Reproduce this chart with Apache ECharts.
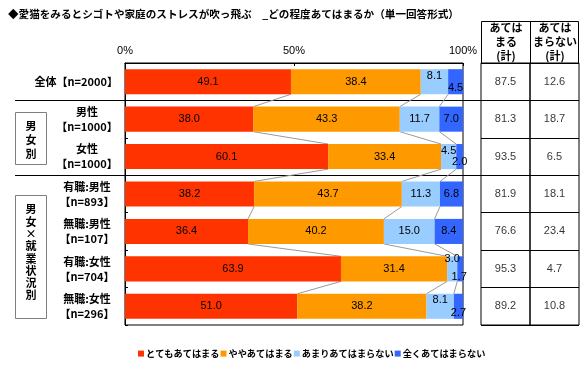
<!DOCTYPE html>
<html><head><meta charset="utf-8">
<script src="https://cdn.jsdelivr.net/npm/echarts@6/dist/echarts.min.js"></script>
<style>html,body{margin:0;padding:0;background:#fff}#c{width:581px;height:376px}</style>
</head><body><div id="c"></div>
<script>
// ---- data ----
const categories = ['全体【n=2000】','男性\n【n=1000】','女性\n【n=1000】','有職:男性\n【n=893】','無職:男性\n【n=107】','有職:女性\n【n=704】','無職:女性\n【n=296】'];
const seriesNames = ['とてもあてはまる','ややあてはまる','あまりあてはまらない','全くあてはまらない'];
const veryMuch = [49.1,38.0,60.1,38.2,36.4,63.9,51.0];
const somewhat = [38.4,43.3,33.4,43.7,40.2,31.4,38.2];
const notMuch  = [8.1,11.7,4.5,11.3,15.0,3.0,8.1];
const notAtAll = [4.5,7.0,2.0,6.8,8.4,1.7,2.7];
const applyTotal    = [87.5,81.3,93.5,81.9,76.6,95.3,89.2];
const notApplyTotal = [12.6,18.7,6.5,18.1,23.4,4.7,10.8];
const xTickValues = [0,50,100];
const titleText = '◆愛猫をみるとシゴトや家庭のストレスが吹っ飛ぶ　_どの程度あてはまるか（単一回答形式）';
const headerYes = 'あては\nまる\n(計)';
const headerNo = 'あては\nまらない\n(計)';
const groupBox1 = '男\n女\n別';
const groupBox2 = '男\n女\n×\n就\n業\n状\n況\n別';

// ---- style / layout ----
const colors = ['#FF3300','#FF9900','#99CCFF','#3366FF'];
const JP = '"Noto Sans CJK JP", sans-serif';
const NUM = '"Liberation Sans", Arial, sans-serif';
const G = {left:125, top:63, width:338, height:262};
const BAR_RATIO = 0.67;
const pitch = G.height / categories.length;
const nudges = {
  2: {0:[0,-6], 2:[0,-6], 5:[0,-10], 6:[0,-6]},
  3: {0:[0,6], 2:[0,5], 5:[-1,8], 6:[0,7]}
};

const values = [veryMuch, somewhat, notMuch, notAtAll];
const barSeries = values.map((arr, s) => ({
  name: seriesNames[s], type: 'bar', stack: 'all', xAxisIndex:0, yAxisIndex:0,
  barCategoryGap: '33%',
  itemStyle: {color: colors[s]},
  label: {show:true, position:'inside', color:'#000', fontSize:11, fontFamily:NUM,
          formatter: p => p.value.toFixed(1)},
  data: arr.map((v, i) => {
    const n = nudges[s] && nudges[s][i];
    return n ? {value: v, label: {offset: n}} : v;
  })
}));

const cum = categories.map((_, i) => {
  const a = veryMuch[i], b = a + somewhat[i], c = b + notMuch[i];
  return [a, b, c];
});
const connData = [];
for (let i = 0; i < categories.length - 1; i++) connData.push([i, ...cum[i], ...cum[i+1]]);

const connSeries = {
  type:'custom', xAxisIndex:0, yAxisIndex:0, silent:true, z:1,
  encode:{x:[1,2,3,4,5,6], y:0},
  data: connData,
  renderItem: (params, api) => {
    const i = api.value(0);
    const half = api.size([0,1])[1] * BAR_RATIO / 2;
    const children = [];
    for (let k = 0; k < 3; k++) {
      const p1 = api.coord([api.value(1+k), i]);
      const p2 = api.coord([api.value(4+k), i+1]);
      children.push({type:'line', shape:{x1:p1[0], y1:p1[1]+half, x2:p2[0], y2:p2[1]-half},
        style:{stroke:'#9a9a9a', lineWidth:1}});
    }
    return {type:'group', children};
  }
};

function tableSeries(arr, idx) {
  return {type:'scatter', xAxisIndex:idx, yAxisIndex:idx, symbolSize:1, silent:true,
    itemStyle:{color:'rgba(0,0,0,0)'},
    label:{show:true, position:'inside', color:'#000', fontSize:11, fontFamily:NUM,
      formatter: p => p.value[2].toFixed(1)},
    encode:{x:0, y:1},
    data: arr.map((v, i) => [0.5, i, v])};
}

function tableYAxis(idx) {
  return {type:'category', gridIndex:idx, inverse:true, data:categories,
    axisLabel:{show:false}, axisTick:{show:false}, axisLine:{show:false},
    splitLine:{show:true, lineStyle:{color:'#000', width:1}}};
}

const sep1 = Math.round(G.top + pitch * 1) + 0.5;
const sep2 = Math.round(G.top + pitch * 3) + 0.5;

const option = {
  animation:false,
  backgroundColor:'#fff',
  title:{text:titleText, left:3, top:4,
    textStyle:{fontSize:10.6, fontWeight:'bold', color:'#000', fontFamily:JP}},
  legend:{data:seriesNames, left:133, top:344, icon:'rect', itemWidth:6, itemHeight:6, itemGap:1,
    textStyle:{fontSize:9.2, fontWeight:'bold', color:'#000', fontFamily:JP, padding:[0,0,0,-3]}},
  grid:[
    {left:G.left, top:G.top, width:G.width, height:G.height, show:true, borderColor:'#000', borderWidth:1, containLabel:false},
    {left:481, top:G.top, width:49, height:G.height, show:true, borderColor:'#000', borderWidth:1},
    {left:530, top:G.top, width:49, height:G.height, show:true, borderColor:'#000', borderWidth:1}
  ],
  xAxis:[
    {type:'value', gridIndex:0, position:'top', min:xTickValues[0], max:xTickValues[xTickValues.length-1],
      interval:xTickValues[1]-xTickValues[0],
      axisLine:{show:true, lineStyle:{color:'#000'}},
      axisTick:{show:true, inside:true, length:3, lineStyle:{color:'#000'}},
      splitLine:{show:false},
      axisLabel:{formatter:'{value}%', color:'#000', fontSize:11, fontFamily:NUM, margin:7}},
    {type:'value', gridIndex:1, min:0, max:1, show:false},
    {type:'value', gridIndex:2, min:0, max:1, show:false}
  ],
  yAxis:[
    {type:'category', gridIndex:0, inverse:true, data:categories,
      axisLine:{show:true, lineStyle:{color:'#000'}},
      axisTick:{show:true, inside:true, length:3, lineStyle:{color:'#000'}},
      splitLine:{show:false},
      axisLabel:{align:'right', margin:7, color:'#000',
        formatter: v => v.indexOf('\n') >= 0
          ? v.split('\n').map(s => '{c|' + s + '}').join('\n')
          : '{r|' + v + '}',
        rich:{
          c:{width:62, align:'center', fontSize:11, fontWeight:'bold', fontFamily:JP, lineHeight:15, color:'#000'},
          r:{align:'right', fontSize:11, fontWeight:'bold', fontFamily:JP, color:'#000'}
        }}},
    tableYAxis(1), tableYAxis(2)
  ],
  series:[connSeries, ...barSeries, tableSeries(applyTotal,1), tableSeries(notApplyTotal,2)],
  graphic:[
    {type:'line', z:-1, shape:{x1:15, y1:sep1, x2:481, y2:sep1}, style:{stroke:'#000', lineWidth:1}},
    {type:'line', z:-1, shape:{x1:15, y1:sep2, x2:481, y2:sep2}, style:{stroke:'#000', lineWidth:1}},
    {type:'rect', shape:{x:481.5, y:21.5, width:97, height:41.5}, style:{fill:'#fff', stroke:'#000', lineWidth:1}},
    {type:'line', shape:{x1:530.5, y1:21.5, x2:530.5, y2:63}, style:{stroke:'#000', lineWidth:1}},
    {type:'text', x:506, y:21, style:{text:headerYes, textAlign:'center', textVerticalAlign:'top',
      font:'bold 11px ' + JP, lineHeight:14, fill:'#000'}},
    {type:'text', x:555, y:21, style:{text:headerNo, textAlign:'center', textVerticalAlign:'top',
      font:'bold 11px ' + JP, lineHeight:14, fill:'#000'}},
    {type:'rect', shape:{x:15.5, y:112.5, width:31, height:52}, style:{fill:'#fff', stroke:'#7f7f7f', lineWidth:1}},
    {type:'text', x:31, y:119, style:{text:groupBox1, textAlign:'center', textVerticalAlign:'top',
      font:'bold 11px ' + JP, lineHeight:14, fill:'#000'}},
    {type:'rect', shape:{x:15.5, y:195.5, width:31, height:123}, style:{fill:'#fff', stroke:'#7f7f7f', lineWidth:1}},
    {type:'text', x:31, y:203, style:{text:groupBox2, textAlign:'center', textVerticalAlign:'top',
      font:'bold 11px ' + JP, lineHeight:12.3, fill:'#000'}}
  ]
};
const chart = echarts.init(document.getElementById('c'), null, {renderer:'canvas'});
chart.setOption(option);
</script>
</body></html>
